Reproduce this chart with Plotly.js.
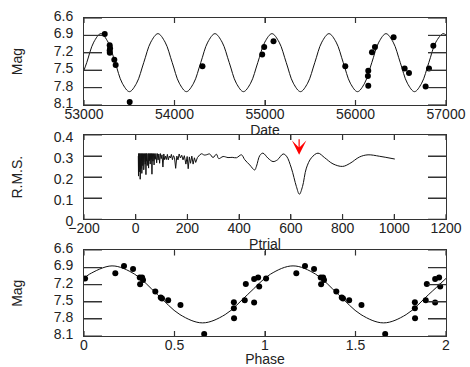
<!DOCTYPE html>
<html>
<head>
<meta charset="utf-8">
<script src="https://cdn.plot.ly/plotly-3.0.1.min.js"></script>
<style>html,body{margin:0;padding:0;background:#fff}#chart{width:470px;height:367px}</style>
</head>
<body>
<div id="chart"></div>
<script>
// ---- Top panel: light curve vs date ----
const obsDate = [53229, 53284, 53288, 53284, 53285, 53335, 53350, 53505, 54309, 54969, 54991, 55094,
                 55887, 56141, 56137, 56141, 56182, 56215, 56421, 56543, 56591, 56775, 56812, 56860];
const obsMag  = [6.877, 7.07, 7.12, 7.16, 7.20, 7.32, 7.41, 8.05, 7.43, 7.23, 7.10, 7.00,
                 7.43, 7.51, 7.60, 7.77, 7.19, 7.10, 6.93, 7.47, 7.55, 7.78, 7.47, 7.08];
const fitDate = [53000, 53030, 53108, 53187, 53266, 53345, 53423, 53502, 53581, 53660, 53738,
                 53817, 53896, 53975, 54053, 54132, 54211, 54290, 54368, 54447, 54526, 54605,
                 54683, 54762, 54841, 54920, 54998, 55077, 55156, 55235, 55313, 55392, 55471,
                 55550, 55628, 55707, 55786, 55865, 55943, 56022, 56101, 56180, 56258, 56337,
                 56416, 56495, 56573, 56652, 56731, 56810, 56888, 56967, 57000];
const fitMag  = [7.50, 7.37, 7.016, 6.87, 7.016, 7.37, 7.724, 7.87, 7.724, 7.37, 7.016,
                 6.87, 7.016, 7.37, 7.724, 7.87, 7.724, 7.37, 7.016, 6.87, 7.016, 7.37,
                 7.724, 7.87, 7.724, 7.37, 7.016, 6.87, 7.016, 7.37, 7.724, 7.87, 7.724,
                 7.37, 7.016, 6.87, 7.016, 7.37, 7.724, 7.87, 7.724, 7.37, 7.016, 6.87,
                 7.016, 7.37, 7.724, 7.87, 7.724, 7.37, 7.016, 6.87, 6.895];
const dateTicks = [53000, 54000, 55000, 56000, 57000];
const magTicks  = [6.6, 6.9, 7.2, 7.5, 7.8, 8.1];

// ---- Middle panel: R.M.S. vs trial period ----
const noisyP = [10, 10.8, 11.6, 12.4, 13.2, 14, 14.8, 15.6, 16.4, 17.2, 18, 18.8, 19.6, 20.4, 21.2,
  22, 22.8, 23.6, 24.4, 25.3, 26.2, 27.1, 28, 29, 30, 31, 32, 33, 34, 35, 36, 37.2, 38.4, 39.6,
  40.8, 42, 43.2, 44.5, 45.8, 47.1, 48.4, 49.8, 51.2, 52.8, 54.4, 56, 57.6, 59.4, 61, 62.8, 64.6,
  66.6, 68.6, 71, 73.4, 75.8, 78.2, 81, 83.8, 86.6, 89.4, 92.4, 95.4, 98.6, 101.8, 105.2, 108.6,
  112, 115.5, 119, 122.5, 126, 130, 134, 138, 142, 146, 150, 154.5, 159, 163.5, 168, 173, 178,
  183, 188, 194, 199, 203, 207.5, 212, 217, 222, 227, 232, 238.6];
const noisyRms = [0.300, 0.205, 0.312, 0.250, 0.312, 0.268, 0.312, 0.225, 0.312, 0.190, 0.312, 0.262,
  0.312, 0.240, 0.312, 0.275, 0.312, 0.218, 0.312, 0.270, 0.312, 0.255, 0.312, 0.280, 0.312, 0.235,
  0.312, 0.268, 0.312, 0.282, 0.312, 0.262, 0.312, 0.212, 0.312, 0.276, 0.312, 0.255, 0.312, 0.283,
  0.312, 0.243, 0.312, 0.278, 0.312, 0.262, 0.312, 0.284, 0.312, 0.214, 0.312, 0.276, 0.312, 0.258,
  0.312, 0.285, 0.312, 0.268, 0.312, 0.282, 0.310, 0.266, 0.312, 0.288, 0.306, 0.248, 0.310, 0.283,
  0.300, 0.284, 0.308, 0.282, 0.300, 0.291, 0.308, 0.283, 0.302, 0.293, 0.242, 0.300, 0.282, 0.310,
  0.291, 0.304, 0.282, 0.302, 0.262, 0.298, 0.240, 0.296, 0.266, 0.300, 0.262, 0.292, 0.270, 0.293];
const smoothP = [238.6, 254, 265, 273, 286, 299, 312, 321, 338, 357, 373, 389.5, 409, 421.6, 441,
  460, 467, 480, 492, 511.7, 531, 548, 570, 583, 602, 621.5, 633, 645, 660, 679.6, 705, 731, 763,
  800, 828, 866, 898.5, 943.7, 1002];
const smoothRms = [0.293, 0.311, 0.305, 0.306, 0.310, 0.293, 0.309, 0.288, 0.298, 0.293, 0.294, 0.292,
  0.306, 0.283, 0.258, 0.234, 0.252, 0.303, 0.314, 0.290, 0.274, 0.282, 0.310, 0.300, 0.243, 0.155,
  0.119, 0.155, 0.243, 0.292, 0.314, 0.292, 0.263, 0.251, 0.265, 0.296, 0.306, 0.299, 0.286];
const bestPeriod = [632];
const bestRmsMark = [0.306];
const pTicks = [-200, 0, 200, 400, 600, 800, 1000, 1200];
const rmsTicks = [0, 0.1, 0.2, 0.3, 0.4];

// ---- Bottom panel: phased light curve ----
const phase = [0.006, 0.173, 0.221, 0.271, 0.308, 0.321, 0.326, 0.310, 0.394, 0.424, 0.431, 0.465,
               0.533, 0.664, 0.828, 0.828, 0.829, 0.888, 0.894, 0.940, 0.940, 0.962, 0.968];
const phaseMag = [7.093, 6.999, 6.871, 6.923, 7.075, 7.075, 7.116, 7.192, 7.321, 7.426, 7.444, 7.473,
                  7.555, 8.063, 7.508, 7.613, 7.788, 7.473, 7.186, 7.099, 7.514, 7.075, 7.233];
const fitPhase = [0, 0.03, 0.155, 0.28, 0.405, 0.53, 0.655, 0.78, 0.905, 1.03, 1.155, 1.28, 1.405,
                  1.53, 1.655, 1.78, 1.905, 2.0];
const fitPhaseMag = [7.09, 7.016, 6.87, 7.016, 7.37, 7.724, 7.87, 7.724, 7.37, 7.016, 6.87, 7.016,
                     7.37, 7.724, 7.87, 7.724, 7.37, 7.09];
const phaseTicks = [0, 0.5, 1, 1.5, 2];

const phase2 = phase.concat(phase.map(p => p + 1));
const phaseMag2 = phaseMag.concat(phaseMag);

const W = 470, H = 367, M = {l: 84, r: 24, t: 18, b: 31};
const panels = [
  {xa: 'x', ya: 'y', xr: [53000, 57000], xt: dateTicks, yr: [8.1, 6.6], yt: magTicks, dom: [0.7264, 1]},
  {xa: 'x2', ya: 'y2', xr: [-200, 1200], xt: pTicks, yr: [0, 0.4], yt: rmsTicks, dom: [0.367, 0.632]},
  {xa: 'x3', ya: 'y3', xr: [0, 2], xt: phaseTicks, yr: [8.1, 6.6], yt: magTicks, dom: [0, 0.2689]}
];

// inward tick marks on all four sides of each panel, drawn as line traces on the panel's own axes
function tickTrace(p, xlenPx, ylenPx, color) {
  const plotW = W - M.l - M.r, plotH = (H - M.t - M.b) * (p.dom[1] - p.dom[0]);
  const dx = (p.xr[1] - p.xr[0]) * ylenPx / plotW;
  const dy = (p.yr[1] - p.yr[0]) * xlenPx / plotH;
  const xs = [], ys = [];
  p.yt.forEach(v => {
    xs.push(p.xr[0], p.xr[0] + dx, null, p.xr[1] - dx, p.xr[1], null);
    ys.push(v, v, null, v, v, null);
  });
  p.xt.forEach(v => {
    xs.push(v, v, null, v, v, null);
    ys.push(p.yr[0], p.yr[0] + dy, null, p.yr[1] - dy, p.yr[1], null);
  });
  return {x: xs, y: ys, xaxis: p.xa, yaxis: p.ya, mode: 'lines', connectgaps: false,
          line: {color: color, width: 1.2}, hoverinfo: 'skip'};
}

const ink = '#111';
const traces = [
  {x: fitDate, y: fitMag, xaxis: 'x', yaxis: 'y', mode: 'lines', line: {color: ink, width: 1, shape: 'spline'}, hoverinfo: 'skip'},
  {x: obsDate, y: obsMag, xaxis: 'x', yaxis: 'y', mode: 'markers', marker: {color: '#000', size: 6}},
  {x: noisyP, y: noisyRms, xaxis: 'x2', yaxis: 'y2', mode: 'lines', line: {color: ink, width: 1}},
  {x: smoothP, y: smoothRms, xaxis: 'x2', yaxis: 'y2', mode: 'lines', line: {color: ink, width: 1, shape: 'spline'}},
  {x: fitPhase, y: fitPhaseMag, xaxis: 'x3', yaxis: 'y3', mode: 'lines', line: {color: ink, width: 1, shape: 'spline'}},
  {x: phase2, y: phaseMag2, xaxis: 'x3', yaxis: 'y3', mode: 'markers', marker: {color: '#000', size: 6}}
].concat(panels.map(p => tickTrace(p, 5, 18, '#333')));

function mkFont() { return {family: 'Liberation Sans, Arial, sans-serif', size: 14, color: '#222'}; }
function xax(range, ticks, title, anchor) {
  return {range: range, tickmode: 'array', tickvals: ticks, ticktext: ticks.map(v => v < 0 ? '\u2212' + Math.abs(v) : String(v)),
    anchor: anchor, showline: true, linecolor: '#333', linewidth: 1, mirror: 'ticks',
    ticks: 'inside', ticklen: 5, tickwidth: 1, tickcolor: '#333',
    showgrid: false, zeroline: false, ticklabelstandoff: -4,
    title: {text: title, font: mkFont(), standoff: 4}, tickfont: mkFont()};
}
function yax(range, ticks, title, domain, anchor) {
  return {range: range, tickmode: 'array', tickvals: ticks, ticktext: ticks.map(String), domain: domain, anchor: anchor,
    showline: true, linecolor: '#333', linewidth: 1, mirror: 'ticks',
    ticks: 'inside', ticklen: 18, tickwidth: 1, tickcolor: '#333', showgrid: false,
    zeroline: false, ticklabelstandoff: 7, ticklabelshift: 2,
    title: {text: title, font: mkFont(), standoff: 27}, tickfont: mkFont()};
}

const layout = {
  width: W, height: H,
  margin: M,
  paper_bgcolor: '#fff', plot_bgcolor: '#fff',
  showlegend: false, font: mkFont(),
  xaxis: xax(panels[0].xr, dateTicks, 'Date', 'y'),
  yaxis: yax(panels[0].yr, magTicks, 'Mag', panels[0].dom, 'x'),
  xaxis2: xax(panels[1].xr, pTicks, 'Ptrial', 'y2'),
  yaxis2: yax(panels[1].yr, rmsTicks, 'R.M.S.', panels[1].dom, 'x2'),
  xaxis3: xax(panels[2].xr, phaseTicks, 'Phase', 'y3'),
  yaxis3: yax(panels[2].yr, magTicks, 'Mag', panels[2].dom, 'x3'),
  annotations: [{
    x: bestPeriod[0], y: bestRmsMark[0], xref: 'x2', yref: 'y2', text: '',
    showarrow: true, ax: 0, ay: -17, arrowcolor: '#ff0000', arrowhead: 3, arrowwidth: 1.2, arrowsize: 2
  }]
};

Plotly.newPlot('chart', traces, layout, {staticPlot: true, displayModeBar: false});
</script>
</body>
</html>
